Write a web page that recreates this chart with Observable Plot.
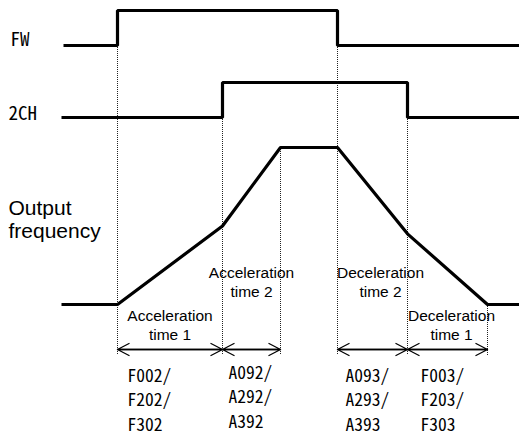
<!DOCTYPE html>
<html><head><meta charset="utf-8">
<script src="https://cdn.jsdelivr.net/npm/d3@7"></script>
<script src="https://cdn.jsdelivr.net/npm/@observablehq/plot@0.6"></script>
<style>
html,body{margin:0;padding:0;background:#fff;}
svg text{font-feature-settings:"hwid" 1;}
</style></head><body><div id="chart"></div>
<script>
// ---- data (time in diagram units, levels as logic 0/1, frequency in %) ----
const fwTimes   = [0, 54, 54, 274, 274, 456];
const fwLevels  = [0, 0, 1, 1, 0, 0];
const chTimes   = [-2, 159, 159, 344, 344, 456];
const chLevels  = [0, 0, 1, 1, 0, 0];
const freqTimes  = [-2, 54, 159, 217, 274, 344, 424, 456];
const freqValues = [0, 0, 50, 100, 100, 45, 0, 0];
const intervalStart = [54, 159, 274, 344];
const intervalEnd   = [159, 217, 344, 424];
const intervalLabels = ["Acceleration\ntime 1", "Acceleration\ntime 2", "Deceleration\ntime 2", "Deceleration\ntime 1"];
const paramCodes = ["F002/\nF202/\nF302", "A092/\nA292/\nA392", "A093/\nA293/\nA393", "F003/\nF203/\nF303"];
const signalNames = ["FW", "2CH"];
const outputName = "Output\nfrequency";

// ---- layout ----
const fwTrack = {base: 392, amp: 35};
const chTrack = {base: 320, amp: 35};
const outTrack = {base: 133, amp: 1.57};
const arrowY = 88, guideBottom = 82;
const labelDx = [0, 0, 8, 4];
const labelY = [98, 141, 141, 98];
const codeDx = [10, 6, 8, 13];
const codeY = [7, 10, 7, 7];

const fw = fwTimes.map((t, i) => ({t, y: fwTrack.base + fwLevels[i] * fwTrack.amp}));
const ch = chTimes.map((t, i) => ({t, y: chTrack.base + chLevels[i] * chTrack.amp}));
const out = freqTimes.map((t, i) => ({t, y: outTrack.base + freqValues[i] * outTrack.amp}));
const guides = [
  {t: fwTimes[1], top: fwTrack.base},
  {t: chTimes[1], top: chTrack.base},
  {t: freqTimes[3], top: outTrack.base + 100 * outTrack.amp},
  {t: fwTimes[3], top: fwTrack.base},
  {t: chTimes[3], top: chTrack.base},
  {t: freqTimes[6], top: outTrack.base}
];
const intervals = intervalStart.map((s, i) => ({s, e: intervalEnd[i], label: intervalLabels[i], code: paramCodes[i],
  lx: (s + intervalEnd[i]) / 2 + labelDx[i], ly: labelY[i], cx: s + codeDx[i], cy: codeY[i]}));

const sans = "Liberation Sans, Arial, sans-serif";
const jp = "Noto Sans CJK JP, sans-serif";
const lineStyle = {x: "t", y: "y", stroke: "black", strokeWidth: 3.2, strokeLinejoin: "miter", strokeLinecap: "butt", curve: "linear"};

const chart = Plot.plot({
  width: 519, height: 437, margin: 0,
  x: {domain: [-63, 456], range: [0, 519], axis: null},
  y: {domain: [0, 437], range: [437, 0], axis: null},
  style: {background: "#fff", overflow: "visible"},
  marks: [
    Plot.ruleX(guides, {x: "t", y1: "top", y2: guideBottom, stroke: "#222", strokeWidth: 1, strokeDasharray: "1 1"}),
    Plot.line(fw, lineStyle),
    Plot.line(ch, lineStyle),
    Plot.line(out, lineStyle),
    Plot.arrow(intervals, {x1: "s", x2: "e", y1: arrowY, y2: arrowY, stroke: "black", strokeWidth: 1.3, headLength: 15, headAngle: 55}),
    Plot.arrow(intervals, {x1: "e", x2: "s", y1: arrowY, y2: arrowY, stroke: "black", strokeWidth: 1.3, headLength: 15, headAngle: 55}),
    Plot.text([signalNames[0]], {x: -53, y: fwTrack.base, text: d => d, textAnchor: "start", lineAnchor: "bottom", fontFamily: jp, fontSize: 19}),
    Plot.text([signalNames[1]], {x: -55, y: chTrack.base - 2, text: d => d, textAnchor: "start", lineAnchor: "bottom", fontFamily: jp, fontSize: 19}),
    Plot.text([outputName], {x: -55, y: 200, text: d => d, textAnchor: "start", lineAnchor: "bottom", fontFamily: sans, fontSize: 21, lineHeight: 1.05}),
    Plot.text(intervals, {x: "lx", y: "ly", text: "label", textAnchor: "middle", lineAnchor: "bottom", fontFamily: sans, fontSize: 15.5, lineHeight: 1.17}),
    Plot.text(intervals, {x: "cx", y: "cy", text: "code", textAnchor: "start", lineAnchor: "bottom", fontFamily: jp, fontSize: 17.5, lineHeight: 1.38})
  ]
});
document.getElementById("chart").appendChild(chart);
</script></body></html>
